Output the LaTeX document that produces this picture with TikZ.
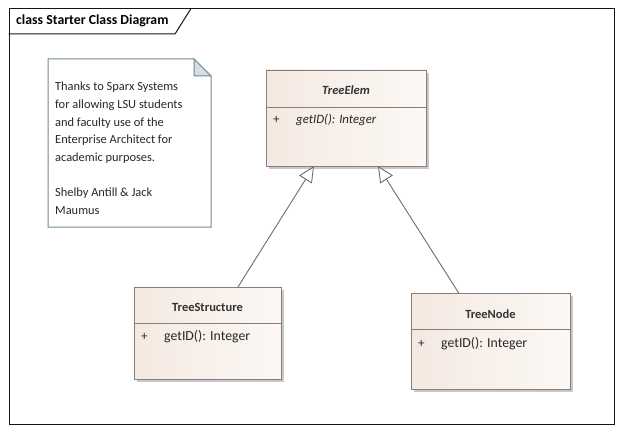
\documentclass[tikz,border=0pt]{standalone}
\usepackage{fontspec}
\setmainfont{Carlito}
\usetikzlibrary{arrows.meta,calc}
\definecolor{framecol}{RGB}{20,20,20}
\definecolor{boxline}{RGB}{140,124,118}
\definecolor{boxfillA}{RGB}{244,233,225}
\definecolor{boxfillB}{RGB}{252,248,245}
\definecolor{shadowcol}{RGB}{200,200,200}
\definecolor{noteline}{RGB}{110,138,150}
\definecolor{notefold}{RGB}{216,222,227}
\definecolor{conncol}{RGB}{100,110,125}
\definecolor{textcol}{RGB}{40,40,40}
\tikzset{
  classbox/.style={draw=boxline, line width=0.9pt, left color=boxfillA, right color=boxfillB,
    anchor=north west, inner sep=0pt, outer sep=0pt},
  sep/.style={draw=boxline, line width=0.8pt},
  gen/.style={draw=conncol, line width=0.9pt, -{Triangle[open,length=16pt,width=15pt,fill=white]}},
  txt/.style={font=\fontsize{12}{14}\selectfont, text=textcol, inner sep=0pt},
}
\begin{document}
\begin{tikzpicture}[x=1pt,y=-1pt]
\useasboundingbox (0,0) rectangle (621,433);
\fill[white] (0,0) rectangle (621,433);
% frame
\node[draw=framecol, line width=1pt, anchor=north west, minimum width=605, minimum height=415, inner sep=0pt] (frame) at (8.5,8.5) {};
\draw[framecol, line width=1pt] (8.5,34) -- (175,34) -- (191,8.5);
\node[txt, font=\fontsize{13.8}{15}\selectfont\bfseries, text=black, anchor=west] (title) at (16,21) {class Starter Class Diagram};
% note
\draw[noteline, line width=1pt, fill=white] (48,59) -- (194,59) -- (211,76) -- (211,227) -- (48,227) -- cycle;
\draw[noteline, line width=1pt, fill=notefold] (194,59) -- (194,76) -- (211,76) -- cycle;
\node[txt, anchor=north west, align=left, font=\fontsize{12.4}{17.6}\selectfont] (note) at (55,82)
  {Thanks to Sparx Systems\\for allowing LSU students\\and faculty use of the\\Enterprise Architect for\\academic purposes.\\[17.6pt]Shelby Antill \& Jack\\Maumus};
% TreeElem
\fill[shadowcol] (269,73) rectangle (429,169);
\node[classbox, minimum width=160, minimum height=96] (elem) at (266,70) {};
\draw[sep] (266,107) -- (426,107);
\node[txt, font=\fontsize{12.5}{14}\selectfont\bfseries\itshape, text=black!80] (elemname) at (346,90) {TreeElem};
\node[txt, anchor=west, font=\fontsize{13}{14}\selectfont] (elemplus) at (273,120) {+};
\node[txt, anchor=west, font=\fontsize{12.8}{14}\selectfont\itshape] (elemop) at (296,120) {getID(): Integer};
% TreeStructure
\fill[shadowcol] (137,290) rectangle (284,382);
\node[classbox, minimum width=147, minimum height=92] (ts) at (134,287) {};
\draw[sep] (134,323) -- (281,323);
\node[txt, font=\fontsize{12.5}{14}\selectfont\bfseries, text=black!80] (tsname) at (207.5,307) {TreeStructure};
\node[txt, anchor=west, font=\fontsize{13}{14}\selectfont] (tsplus) at (141,337) {+};
\node[txt, anchor=west, font=\fontsize{13.8}{15}\selectfont] (tsop) at (164,337) {getID(): Integer};
% TreeNode
\fill[shadowcol] (414,296) rectangle (573,392);
\node[classbox, minimum width=159, minimum height=96] (tn) at (411,293) {};
\draw[sep] (411,329) -- (570,329);
\node[txt, font=\fontsize{12.5}{14}\selectfont\bfseries, text=black!80] (tnname) at (490.5,314) {TreeNode};
\node[txt, anchor=west, font=\fontsize{13}{14}\selectfont] (tnplus) at (418,344) {+};
\node[txt, anchor=west, font=\fontsize{13.8}{15}\selectfont] (tnop) at (441,344) {getID(): Integer};
% generalizations
\draw[gen] ($(ts.north west)!0.707!(ts.north east)$) -- ($(elem.south west)!0.3!(elem.south east)$);
\draw[gen] ($(tn.north west)!0.30!(tn.north east)$) -- ($(elem.south west)!0.7!(elem.south east)$);
\end{tikzpicture}
\end{document}
